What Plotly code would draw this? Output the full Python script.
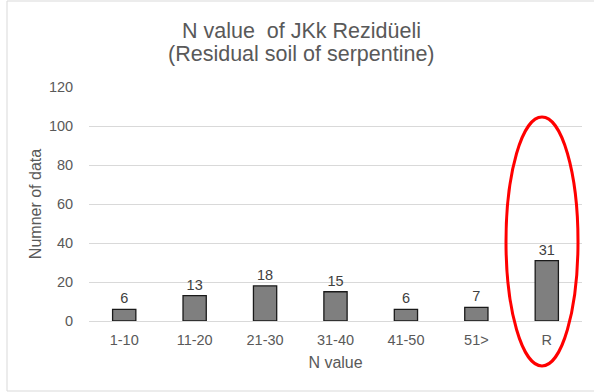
import plotly.graph_objects as go

# N-value classes and number of data in each
categories = ["1-10", "11-20", "21-30", "31-40", "41-50", "51>", "R"]
counts = [6, 13, 18, 15, 6, 7, 31]

y_ticks = [0, 20, 40, 60, 80, 100, 120]

title_lines = ["N value  of JKk Rezidüeli", "(Residual soil of serpentine)"]

W, H = 594, 392
L, R, T, B = 89, 12, 87, 71
pw, ph = W - L - R, H - T - B


def px_x(x):
    return (x - L) / pw


def px_y(y):
    return (H - B - y) / ph


GRAY_TXT = "#595959"
FONT = "Liberation Sans, Arial, sans-serif"

fig = go.Figure(
    go.Bar(
        x=categories,
        y=counts,
        text=[str(v) for v in counts],
        textposition="outside",
        textfont=dict(size=14.5, color="#404040", family=FONT),
        marker=dict(color="#7f7f7f", line=dict(color="#1a1a1a", width=1.3)),
        cliponaxis=False,
        hoverinfo="skip",
    )
)

# two-line chart title, one annotation per line for tight line spacing
title_annots = [
    dict(
        text=line,
        xref="paper",
        yref="paper",
        x=px_x(301),
        y=px_y(yc),
        xanchor="center",
        yanchor="middle",
        showarrow=False,
        font=dict(size=21.5, color=GRAY_TXT, family=FONT),
    )
    for line, yc in zip(title_lines, [31, 54])
]

fig.update_layout(
    width=W,
    height=H,
    margin=dict(l=L, r=R, t=T, b=B),
    paper_bgcolor="white",
    plot_bgcolor="white",
    bargap=0.67,
    showlegend=False,
    font=dict(family=FONT, color=GRAY_TXT),
    annotations=title_annots,
    xaxis=dict(
        title=dict(text="N value", font=dict(size=16, color=GRAY_TXT), standoff=9),
        tickfont=dict(size=14.5, color=GRAY_TXT),
        showline=True,
        linecolor="#d9d9d9",
        linewidth=1,
        ticks="outside",
        ticklen=6,
        tickcolor="rgba(0,0,0,0)",
        showgrid=False,
    ),
    yaxis=dict(
        title=dict(text="Numner of data", font=dict(size=16, color=GRAY_TXT), standoff=3),
        range=[0, 120],
        tickvals=y_ticks,
        tickfont=dict(size=14.5, color=GRAY_TXT),
        showgrid=True,
        gridcolor="#d9d9d9",
        gridwidth=1,
        zeroline=False,
        ticks="outside",
        ticklen=12,
        tickcolor="rgba(0,0,0,0)",
        showline=False,
    ),
    shapes=[
        # chart frame
        dict(
            type="rect",
            xref="paper",
            yref="paper",
            x0=px_x(7),
            x1=px_x(600),
            y0=px_y(391),
            y1=px_y(1),
            line=dict(color="#d9d9d9", width=1),
            fillcolor="rgba(0,0,0,0)",
            layer="below",
        ),
        # highlight ring around the R column
        dict(
            type="circle",
            xref="paper",
            yref="paper",
            x0=px_x(506),
            x1=px_x(578),
            y0=px_y(366),
            y1=px_y(117),
            line=dict(color="#ff0000", width=3),
            fillcolor="rgba(0,0,0,0)",
        ),
    ],
)

fig.write_html("out.html")
